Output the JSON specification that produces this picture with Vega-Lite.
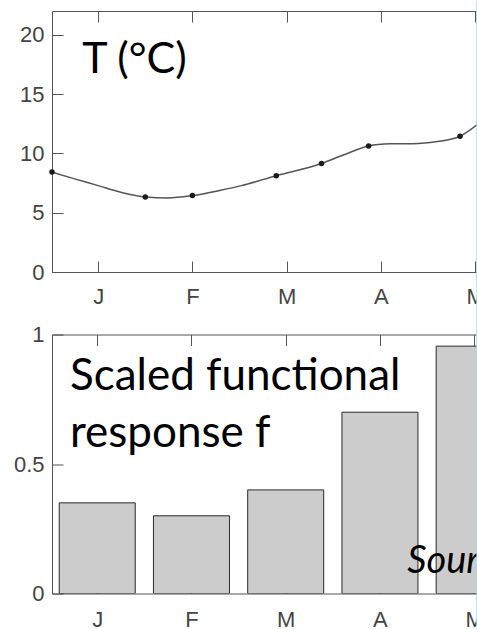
{
  "$schema": "https://vega.github.io/schema/vega-lite/v6.json",
  "padding": {"left": 12, "top": 0, "right": 0, "bottom": 0},
  "bounds": "flush",
  "spacing": 62.5,
  "background": "white",
  "config": {
    "view": {"stroke": "#555555", "strokeWidth": 1},
    "axis": {
      "grid": false,
      "domain": false,
      "tickColor": "#555555",
      "tickSize": -11,
      "tickWidth": 1,
      "labelFont": "Liberation Sans",
      "labelFontSize": 22,
      "labelColor": "#444444",
      "title": null
    }
  },
  "datasets": {
    "curve": [
      {"x": 0.51, "T": 8.42}, {"x": 0.75, "T": 7.85}, {"x": 1.0, "T": 7.28},
      {"x": 1.24, "T": 6.72}, {"x": 1.5, "T": 6.32}, {"x": 1.74, "T": 6.24},
      {"x": 2.0, "T": 6.44}, {"x": 2.3, "T": 6.89}, {"x": 2.52, "T": 7.28},
      {"x": 2.89, "T": 8.12}, {"x": 3.37, "T": 9.14}, {"x": 3.6, "T": 9.86},
      {"x": 3.87, "T": 10.62}, {"x": 4.1, "T": 10.8}, {"x": 4.4, "T": 10.84},
      {"x": 4.64, "T": 11.04}, {"x": 4.84, "T": 11.44}, {"x": 5.02, "T": 12.4}
    ],
    "obs": [
      {"x": 0.51, "T": 8.42}, {"x": 1.5, "T": 6.32}, {"x": 2.0, "T": 6.44},
      {"x": 2.89, "T": 8.12}, {"x": 3.37, "T": 9.14}, {"x": 3.87, "T": 10.62},
      {"x": 4.84, "T": 11.44}
    ],
    "bars": [
      {"month": "J", "x": 1, "f": 0.35},
      {"month": "F", "x": 2, "f": 0.30},
      {"month": "M", "x": 3, "f": 0.40},
      {"month": "A", "x": 4, "f": 0.70},
      {"month": "M", "x": 5, "f": 0.955}
    ]
  },
  "vconcat": [
    {
      "width": 425,
      "height": 261,
      "resolve": {"axis": {"x": "independent"}},
      "layer": [
        {
          "data": {"name": "curve"},
          "mark": {"type": "line", "color": "#555555", "strokeWidth": 1.5, "interpolate": "monotone"},
          "encoding": {
            "x": {"field": "x", "type": "quantitative",
                  "scale": {"domain": [0.51, 5.02], "nice": false, "zero": false, "padding": 0},
                  "axis": {"orient": "bottom", "values": [1, 2, 3, 4, 5], "labelExpr": "['J','F','M','A','M'][datum.value - 1]", "labelPadding": 25}},
            "y": {"field": "T", "type": "quantitative",
                  "scale": {"domain": [0, 22], "nice": false},
                  "axis": {"values": [0, 5, 10, 15, 20], "labelPadding": 19}}
          }
        },
        {
          "data": {"name": "obs"},
          "mark": {"type": "point", "filled": true, "color": "#1a1a1a", "size": 30, "opacity": 1},
          "encoding": {
            "x": {"field": "x", "type": "quantitative",
                  "axis": {"orient": "top", "values": [1, 2, 3, 4, 5], "labels": false, "maxExtent": 0, "minExtent": 0}},
            "y": {"field": "T", "type": "quantitative"}
          }
        },
        {
          "data": {"values": [{"label": "T (°C)"}]},
          "mark": {"type": "text", "font": "Lato", "fontSize": 43, "align": "left", "baseline": "alphabetic", "color": "#000000"},
          "encoding": {
            "x": {"datum": 0.83, "type": "quantitative", "axis": null},
            "y": {"datum": 16.8, "type": "quantitative"},
            "text": {"field": "label"}
          }
        },
        {
          "data": {"values": [{"edge": "right"}]},
          "mark": {"type": "rule", "color": "#a6dbe6", "strokeWidth": 1.5},
          "encoding": {
            "x": {"datum": 5.02, "type": "quantitative", "axis": null},
            "y": {"datum": 22.79, "type": "quantitative"},
            "y2": {"datum": -5.3}
          }
        }
      ]
    },
    {
      "width": 425,
      "height": 259,
      "resolve": {"axis": {"x": "independent"}},
      "layer": [
        {
          "data": {"name": "bars"},
          "mark": {"type": "bar", "width": 76, "fill": "#cccccc", "stroke": "#2a2a2a", "strokeWidth": 1, "clip": true},
          "encoding": {
            "x": {"field": "x", "type": "quantitative",
                  "scale": {"domain": [0.52, 5.03], "nice": false, "zero": false, "padding": 0},
                  "axis": {"orient": "bottom", "values": [1, 2, 3, 4, 5], "labelExpr": "['J','F','M','A','M'][datum.value - 1]", "labelPadding": 26.5}},
            "y": {"field": "f", "type": "quantitative",
                  "scale": {"domain": [0, 1], "nice": false},
                  "axis": {"values": [0, 0.5, 1], "format": "~g", "labelPadding": 19}}
          }
        },
        {
          "data": {"values": [{"label": "Scaled functional\nresponse f"}]},
          "mark": {"type": "text", "font": "Lato", "fontSize": 44, "lineBreak": "\n", "lineHeight": 57, "align": "left", "baseline": "alphabetic", "color": "#000000"},
          "encoding": {
            "x": {"datum": 0.71, "type": "quantitative",
                  "axis": {"orient": "top", "values": [1, 2, 3, 4, 5], "labels": false, "maxExtent": 0, "minExtent": 0}},
            "y": {"datum": 0.784, "type": "quantitative"},
            "text": {"field": "label"}
          }
        },
        {
          "data": {"values": [{"label": "Source"}]},
          "mark": {"type": "text", "font": "Lato", "fontStyle": "italic", "fontSize": 38, "align": "left", "baseline": "alphabetic", "color": "#000000", "clip": true},
          "encoding": {
            "x": {"datum": 4.29, "type": "quantitative", "axis": null},
            "y": {"datum": 0.08, "type": "quantitative"},
            "text": {"field": "label"}
          }
        },
        {
          "data": {"values": [{"edge": "right"}]},
          "mark": {"type": "rule", "color": "#a6dbe6", "strokeWidth": 1.5},
          "encoding": {
            "x": {"datum": 5.03, "type": "quantitative", "axis": null},
            "y": {"datum": 1, "type": "quantitative"},
            "y2": {"datum": -0.13}
          }
        }
      ]
    }
  ]
}
